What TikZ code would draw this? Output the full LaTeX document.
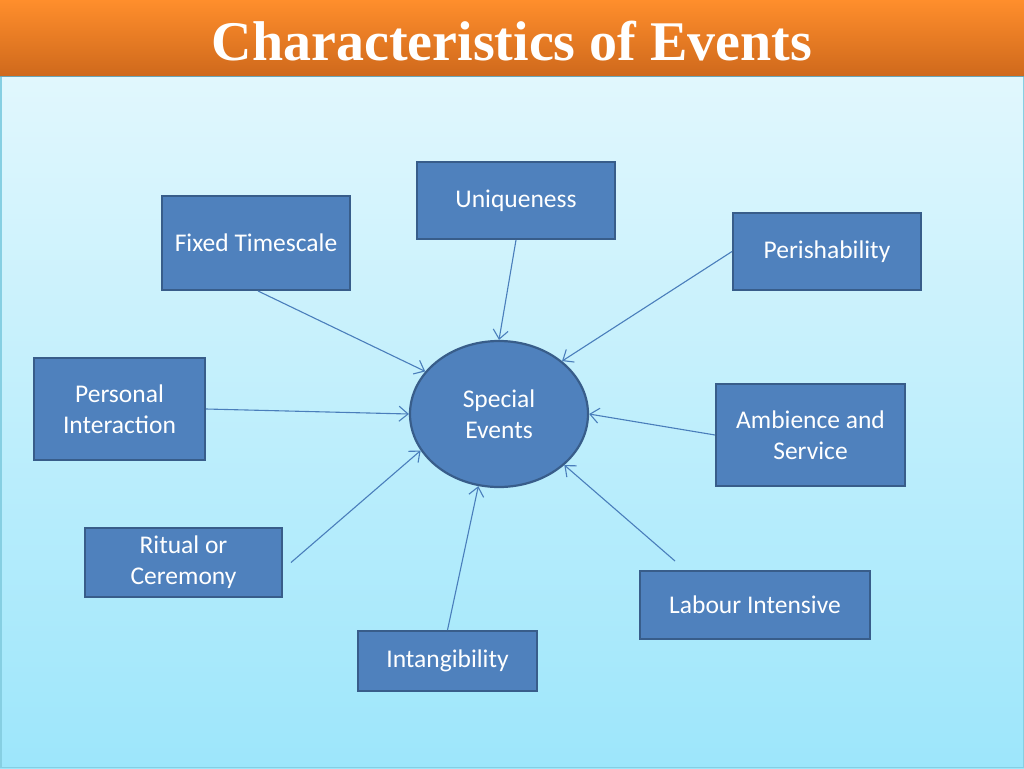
\documentclass[tikz,border=0pt]{standalone}
\usepackage{fontspec}
\setmainfont{Carlito}
\newfontfamily\titlefont{Liberation Serif}
\usetikzlibrary{shapes.geometric, arrows.meta}
\definecolor{boxblue}{HTML}{4F81BD}
\definecolor{boxedge}{HTML}{385D8A}
\definecolor{linkblue}{HTML}{4A7EBB}
\definecolor{bartop}{HTML}{FF8E2C}
\definecolor{barbot}{HTML}{CF691C}
\definecolor{skytop}{HTML}{E1F7FD}
\definecolor{skybot}{HTML}{9DE6FB}
\definecolor{skyedge}{HTML}{86CFE2}
\begin{document}
\begin{tikzpicture}[x=1pt, y=-1pt,
    feature/.style={rectangle, draw=boxedge, line width=2pt, fill=boxblue, text=white, align=center, inner sep=0pt, font=\fontsize{25.5}{31}\selectfont},
    core/.style={ellipse, draw=boxedge, line width=2.2pt, fill=boxblue, text=white, align=center, inner sep=0pt, minimum width=178pt, minimum height=146pt, font=\fontsize{25.5}{31}\selectfont},
    link/.style={-{Straight Barb[length=9pt, width=15pt]}, draw=linkblue, line width=1.1pt}]
    \useasboundingbox (0, 0) rectangle (1024, 768);
    %Background
    \shade[top color=bartop, bottom color=barbot] (0, 0) rectangle (1024, 76);
    \shade[top color=skytop, bottom color=skybot] (0, 76) rectangle (1024, 768);
    \draw[skyedge, line width=1.5pt] (0.75, 76) -- (0.75, 767.25) -- (1023.25, 767.25) -- (1023.25, 76);
    \draw[skyedge!80!black, line width=1pt] (0, 76) -- (1024, 76);
    \node[text=white, font=\titlefont\bfseries\fontsize{56}{60}\selectfont] at (512, 41) (title) {Characteristics of Events};

    %Nodes
    \node[core] at (499, 414) (special) {Special\\Events};
    \node[feature, minimum width=198pt, minimum height=77pt] at (516, 200.5) (unique) {Uniqueness};
    \node[feature, minimum width=188pt, minimum height=94pt] at (256, 243) (fixed) {Fixed Timescale};
    \node[feature, minimum width=188pt, minimum height=77pt] at (827, 251.5) (perish) {Perishability};
    \node[feature, minimum width=171pt, minimum height=102pt] at (119.5, 409) (personal) {Personal\\Interaction};
    \node[feature, minimum width=189pt, minimum height=102pt] at (810.5, 435) (ambience) {Ambience and\\Service};
    \node[feature, minimum width=197pt, minimum height=69pt] at (183.5, 562.5) (ritual) {Ritual or\\Ceremony};
    \node[feature, minimum width=230pt, minimum height=68pt] at (755, 605) (labour) {Labour Intensive};
    \node[feature, minimum width=179pt, minimum height=60pt] at (447.5, 661) (intang) {Intangibility};

    %Lines
    \draw[link] ([xshift=2pt]fixed.south) -- (special.150);
    \draw[link] (unique.south) -- (special.90);
    \draw[link] (perish.west) -- (special.40);
    \draw[link] (personal.east) -- (special.180);
    \draw[link] (ambience.west) -- (special.0);
    \draw[link] ([xshift=8pt]ritual.east) -- (special.205);
    \draw[link] (intang.north) -- (special.254);
    \draw[link] ([xshift=-80pt, yshift=9pt]labour.north) -- (special.322);
\end{tikzpicture}
\end{document}
